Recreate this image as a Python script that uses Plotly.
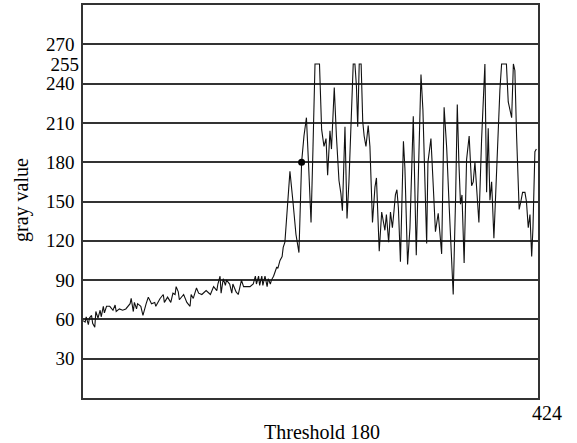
import plotly.graph_objects as go

# Sampled profile (position index, gray value)
pos_low = [0, 2, 3, 5, 6, 8, 9, 11, 12, 14, 16, 17, 19, 20, 22, 25, 28, 30, 31, 34,
           37, 40, 44, 45, 47, 48, 50, 51, 54, 56, 59, 61, 64, 67, 68, 72, 75, 76, 79, 82,
           84, 86, 87, 89, 90, 92, 94, 97, 100, 101, 103, 106, 108, 111, 115, 119, 122, 125, 126, 128,
           129, 131, 133, 134, 137, 139, 140, 143, 145, 148, 150, 153, 156, 159, 161, 162, 164, 165, 167, 168,
           170, 172, 173, 175, 176, 178, 179, 181, 182, 184, 186, 187]
val_low = [59, 58, 62, 56, 61, 63, 57, 54, 66, 61, 67, 62, 70, 65, 70, 70, 67, 71, 66, 68,
           67, 68, 72, 76, 66, 73, 68, 72, 70, 63, 72, 77, 72, 73, 70, 76, 79, 73, 77, 73,
           80, 79, 85, 81, 75, 77, 79, 73, 70, 79, 76, 84, 80, 79, 82, 79, 85, 82, 87, 93,
           80, 91, 86, 90, 87, 80, 87, 81, 79, 90, 85, 85, 85, 87, 93, 87, 93, 86, 93, 86,
           93, 85, 91, 87, 90, 93, 95, 100, 99, 105, 108, 115]

pos_high = [188.6, 193.3, 196.1, 198.9, 201.7, 204.2, 206.4, 208.7, 210.6, 213, 214.8, 216.7, 220.9, 222.9,
            225.1, 227, 228.5, 230.7, 232.1, 234.7, 236.7, 239.1, 240.9, 242.3, 244.7, 246.6, 248.4, 250.3,
            252.4, 254, 255.4, 256.6, 258, 259.8, 261.3, 262.6, 264.3, 266.4, 268, 270.4, 272.7, 274.1,
            276.7, 279, 280.6, 282, 283.4, 285.5, 287.2, 289, 290.4, 291.8, 293.2, 294.6, 296.5, 299.3,
            300.7, 303.2, 305.4, 308.5, 311.3, 313.8, 315.7, 317.5, 318.9, 321, 322.2, 325, 327.2, 329.2,
            331.8, 335, 337.3, 339.7, 342.1, 344.3, 345.8, 348.1, 349.6, 351.1, 352.6, 354, 356, 358.3,
            360.7, 363, 364.5, 366.1, 367.7, 369.8, 372.3, 374, 375.4, 377, 378.5, 380.1, 381.7, 383.8,
            385.7, 388, 389.4, 391, 395.5, 397.2, 398.8, 400.4, 402, 403.4, 405, 407.4, 409, 410.6,
            412.8, 414.2, 415.9, 417.5, 419.1, 420.3, 422.1, 423.5]
val_high = [119, 173, 150, 125, 111, 180, 200, 214, 180, 134, 190, 255, 255, 205,
            192, 198, 170, 204, 190, 237, 200, 166, 156, 143, 207, 137, 165, 210,
            255, 255, 238, 207, 255, 255, 211, 200, 192, 208, 192, 134, 161, 168,
            112, 142, 135, 128, 140, 119, 142, 130, 142, 155, 159, 145, 104, 196,
            175, 102, 130, 215, 109, 200, 247, 220, 172, 118, 180, 198, 161, 127,
            141, 110, 222, 191, 145, 104, 79, 155, 224, 180, 148, 155, 103, 182,
            200, 162, 165, 180, 160, 134, 197, 230, 255, 157, 206, 151, 165, 122,
            160, 211, 235, 255, 255, 226, 221, 214, 255, 250, 200, 144, 150, 157,
            157, 150, 130, 140, 108, 130, 188, 190]

positions = pos_low + pos_high
gray_values = val_low + val_high

threshold_pos = [204.2]
threshold_val = [180]

grid_ticks = [30, 60, 90, 120, 150, 180, 210, 240, 270]
extra_tick = [255]
x_end_label = "424"

FONT = "Liberation Serif, Times New Roman, serif"

fig = go.Figure()
fig.add_trace(go.Scatter(x=positions, y=gray_values, mode="lines",
                         line=dict(color="#111111", width=1.1), showlegend=False))
fig.add_trace(go.Scatter(x=threshold_pos, y=threshold_val, mode="markers",
                         marker=dict(color="black", size=7), showlegend=False))
# invisible trace for the secondary y-axis carrying the 255 label
fig.add_trace(go.Scatter(x=[None], y=[None], yaxis="y2", showlegend=False))

pl, pr, pt, pb = 83, 538, 5, 398

fig.update_layout(
    template="none",
    width=577, height=443,
    margin=dict(l=pl, r=577 - pr, t=pt, b=443 - pb, pad=0, autoexpand=False),
    paper_bgcolor="white", plot_bgcolor="white",
    font=dict(family=FONT, size=19, color="black"),
    xaxis=dict(range=[0, 425], showticklabels=False, showgrid=False, zeroline=False,
               showline=True, linecolor="#333", linewidth=1.5, mirror=True, ticks="",
               automargin=False),
    yaxis=dict(range=[0, 300], tickvals=grid_ticks, showgrid=True, gridcolor="#333",
               gridwidth=1.5, zeroline=False, showline=True, linecolor="#333",
               linewidth=1.5, mirror=True, ticks="", ticklabelstandoff=3, automargin=False,
               tickfont=dict(family=FONT, size=19, color="black")),
    yaxis2=dict(range=[0, 300], tickvals=extra_tick, overlaying="y", side="left",
                showgrid=False, zeroline=False, showline=False, ticks="", ticklabelstandoff=3,
                automargin=False, tickfont=dict(family=FONT, size=19, color="black")),
)

# text placed at pixel positions, converted to paper coordinates
labels = [("gray value", 21, 200, -90), ("Threshold 180", 322, 432, 0), (x_end_label, 547, 413, 0)]
for text, px, py, ang in labels:
    fig.add_annotation(text=text, x=(px - pl) / (pr - pl), y=(pb - py) / (pb - pt),
                       xref="paper", yref="paper", xanchor="center", yanchor="middle",
                       textangle=ang, showarrow=False,
                       font=dict(family=FONT, size=20, color="black"))

fig.write_html("out.html", config={"displayModeBar": False},
               post_script="document.body.style.margin='0';document.body.style.overflow='hidden';")
